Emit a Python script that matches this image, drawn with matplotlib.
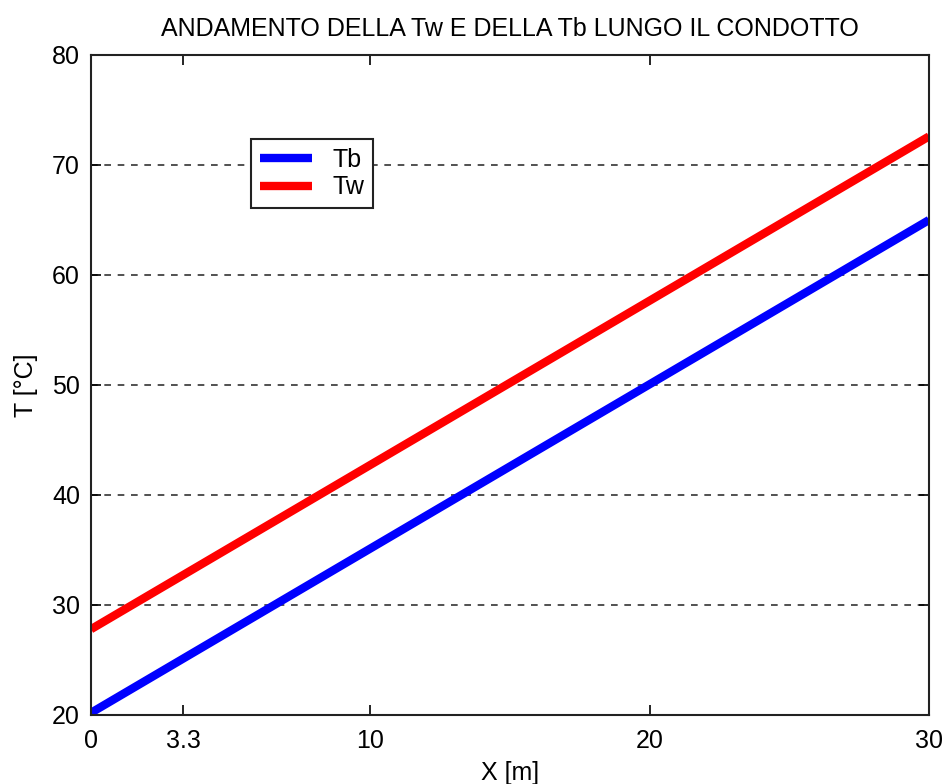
import matplotlib
matplotlib.use("Agg")
import matplotlib.pyplot as plt

x = [0, 30]
Tb = [20.2, 65.0]
Tw = [27.8, 72.6]
xticks = [0, 3.3, 10, 20, 30]
xticklabels = ["0", "3.3", "10", "20", "30"]
yticks = [20, 30, 40, 50, 60, 70, 80]

plt.rcParams['font.family'] = ['Liberation Sans', 'DejaVu Sans']

fig = plt.figure(figsize=(9.45, 7.84), dpi=100)
ax = fig.add_axes([91/945, 69/784, 838/945, 660/784])
ax.plot(x, Tb, color='#0000ff', lw=6, label='Tb', solid_capstyle='butt')
ax.plot(x, Tw, color='#ff0000', lw=6, label='Tw', solid_capstyle='butt')
ax.set_xlim(0, 30)
ax.set_ylim(20, 80)
ax.set_xticks(xticks)
ax.set_xticklabels(xticklabels)
ax.set_yticks(yticks)
ax.tick_params(direction='in', length=7, width=1.2, labelsize=18, top=True, right=True)
ax.tick_params(axis='x', pad=10)
ax.tick_params(axis='y', pad=8)
ax.yaxis.grid(True, linestyle=(0, (4, 4)), color='#333333', lw=1.2)
for s in ax.spines.values():
    s.set_linewidth(1.5)
    s.set_color('#222222')
ax.set_title('ANDAMENTO DELLA Tw E DELLA Tb LUNGO IL CONDOTTO', fontsize=18, pad=14)
ax.set_xlabel('X [m]', fontsize=18, labelpad=6)
ax.set_ylabel('T [°C]', fontsize=18, labelpad=10)
leg = ax.legend(loc='upper left', bbox_to_anchor=(0.191, 0.873), fontsize=18,
                fancybox=False, edgecolor='#222222', framealpha=1,
                handlelength=2.1, borderpad=0.35, labelspacing=0.15, handletextpad=0.8,
                borderaxespad=0)
leg.get_frame().set_linewidth(1.5)
fig.savefig('out.png', dpi=100)
